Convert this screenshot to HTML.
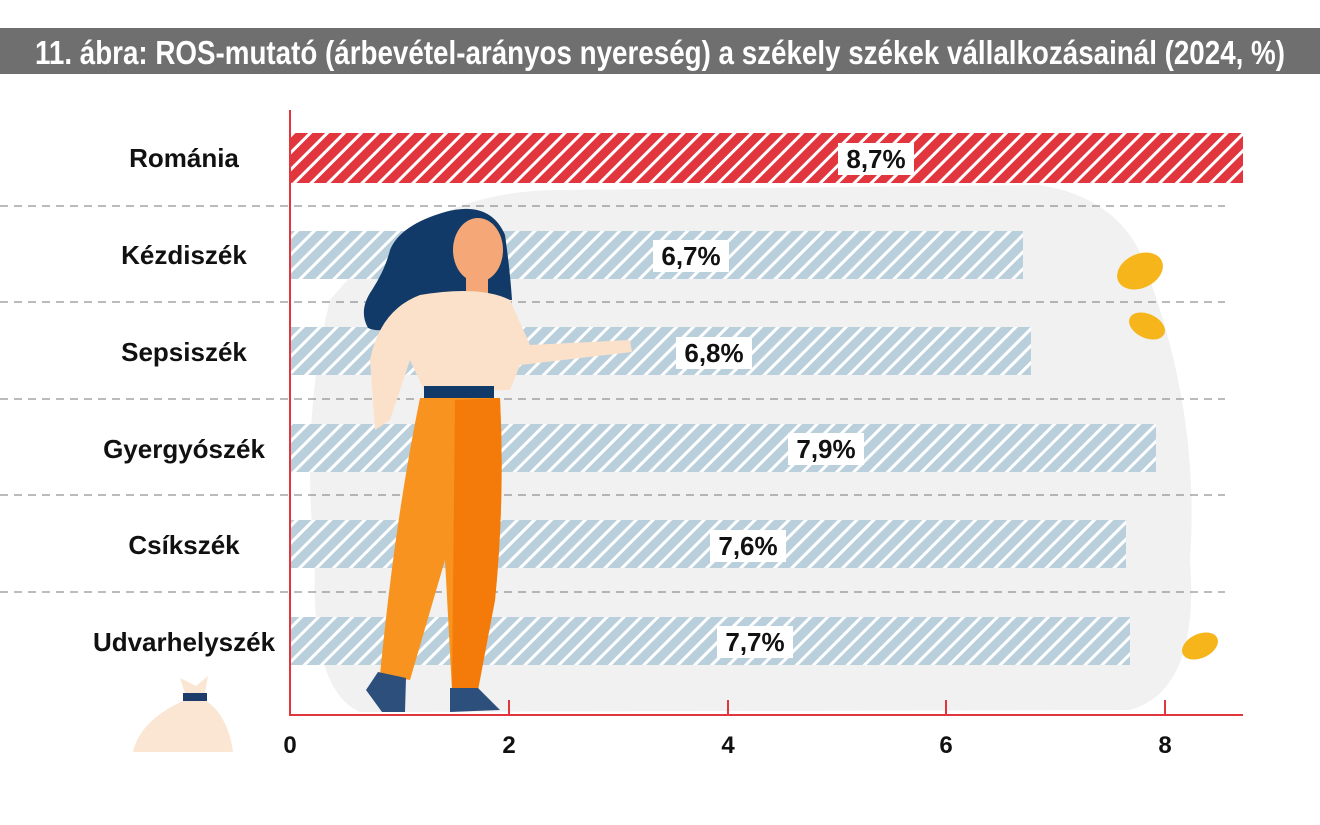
<!DOCTYPE html>
<html><head><meta charset="utf-8"><style>html,body{margin:0;padding:0;background:#fff}svg{display:block}</style></head>
<body>
<svg width="1320" height="825" viewBox="0 0 1320 825" xmlns="http://www.w3.org/2000/svg">
<defs>
<pattern id="hr" width="12" height="12" patternUnits="userSpaceOnUse" patternTransform="rotate(45)">
<rect width="12" height="12" fill="#e2363f"/><rect x="0" width="3" height="12" fill="#fff"/></pattern>
<pattern id="hb" width="12" height="12" patternUnits="userSpaceOnUse" patternTransform="rotate(45)">
<rect width="12" height="12" fill="#b9d0dc"/><rect x="0" width="3" height="12" fill="#fff"/></pattern>
</defs>
<rect width="1320" height="825" fill="#fff"/>
<path d="M330 300 Q420 190 560 190 L1040 185 Q1130 200 1150 280 Q1200 420 1190 560 Q1200 690 1130 710 L360 712 Q310 690 315 560 Q300 420 330 300Z" fill="#f1f1f1"/>
<rect x="0" y="28" width="1320" height="46" fill="#6f6f6f"/>
<text x="35" y="64" font-family="Liberation Sans Narrow, Liberation Sans, sans-serif" font-weight="bold" font-size="33" fill="#fff" textLength="1250" lengthAdjust="spacingAndGlyphs">11. ábra: ROS-mutató (árbevétel-arányos nyereség) a székely székek vállalkozásainál (2024, %)</text>
<g stroke="#777" stroke-width="1" stroke-dasharray="8,6">
<line x1="0" y1="206" x2="1225" y2="206"/><line x1="0" y1="302" x2="1225" y2="302"/>
<line x1="0" y1="399" x2="1225" y2="399"/><line x1="0" y1="495" x2="1225" y2="495"/>
<line x1="0" y1="592" x2="1225" y2="592"/></g>
<rect x="291" y="133" width="952" height="50" fill="url(#hr)"/>
<rect x="291" y="231" width="732" height="48" fill="url(#hb)"/>
<rect x="291" y="327" width="740" height="48" fill="url(#hb)"/>
<rect x="291" y="424" width="865" height="48" fill="url(#hb)"/>
<rect x="291" y="520" width="835" height="48" fill="url(#hb)"/>
<rect x="291" y="617" width="839" height="48" fill="url(#hb)"/>
<line x1="290" y1="110" x2="290" y2="716" stroke="#e2363f" stroke-width="2"/>
<line x1="290" y1="715" x2="1243" y2="715" stroke="#e2363f" stroke-width="2"/>
<g stroke="#e2363f" stroke-width="2"><line x1="509" y1="700" x2="509" y2="715"/><line x1="728" y1="700" x2="728" y2="715"/><line x1="946" y1="700" x2="946" y2="715"/><line x1="1165" y1="700" x2="1165" y2="715"/></g>
<g font-family="Liberation Sans Narrow, Liberation Sans, sans-serif" font-weight="bold" font-size="24" fill="#111" text-anchor="middle">
<text x="290" y="753">0</text><text x="509" y="753">2</text><text x="728" y="753">4</text><text x="946" y="753">6</text><text x="1165" y="753">8</text></g>
<g font-family="Liberation Sans Narrow, Liberation Sans, sans-serif" font-weight="bold" font-size="26" fill="#111" text-anchor="middle">
<text x="184" y="167">Románia</text><text x="184" y="264">Kézdiszék</text><text x="184" y="361">Sepsiszék</text>
<text x="184" y="458">Gyergyószék</text><text x="184" y="554">Csíkszék</text><text x="184" y="651">Udvarhelyszék</text></g>
<!-- hair -->
<path d="M445 212 Q490 200 505 235 Q510 270 512 300 L430 300 Q415 310 400 320 Q385 335 368 328 Q358 310 372 290 Q385 270 390 250 Q400 225 445 212Z" fill="#123a68"/>
<ellipse cx="478" cy="250" rx="25" ry="32" fill="#f6a777"/>
<rect x="466" y="270" width="22" height="28" fill="#f6a777"/>
<path d="M420 295 Q480 285 510 300 L530 345 L630 340 L632 352 L520 365 L510 390 L425 392 L410 360 L390 420 L375 430 L370 360 Q380 310 420 295Z" fill="#fbe1c9"/>
<rect x="424" y="386" width="70" height="12" fill="#123a68"/>
<path d="M420 398 L500 398 Q505 500 495 600 L478 690 L452 690 L445 560 L410 680 L380 675 Q395 520 420 398Z" fill="#f7931e"/>
<path d="M455 400 L500 398 Q505 500 495 600 L478 690 L452 690 Z" fill="#f47b0a"/>
<path d="M378 672 L406 678 L405 712 L382 712 L366 690Z" fill="#2c4f7c"/>
<path d="M450 688 L478 688 L500 710 L450 712Z" fill="#2c4f7c"/>
<ellipse cx="1140" cy="271" rx="24" ry="17" fill="#f5b51b" transform="rotate(-25 1140 271)"/>
<ellipse cx="1147" cy="326" rx="19" ry="12" fill="#f5b51b" transform="rotate(25 1147 326)"/>
<ellipse cx="1200" cy="646" rx="19" ry="12" fill="#f5b51b" transform="rotate(-25 1200 646)"/>
<path d="M185 700 Q140 720 133 752 L233 752 Q228 715 205 700Z" fill="#fbe6d3"/>
<rect x="183" y="693" width="24" height="8" fill="#1e3c6a"/>
<path d="M185 693 L180 678 L196 686 L208 676 L205 693Z" fill="#fbe6d3"/>
<g font-family="Liberation Sans Narrow, Liberation Sans, sans-serif" font-weight="bold" font-size="26" fill="#111" text-anchor="middle">
<rect x="838" y="143" width="76" height="32" fill="#fff"/><text x="876" y="168">8,7%</text>
<rect x="653" y="240" width="76" height="32" fill="#fff"/><text x="691" y="265">6,7%</text>
<rect x="676" y="337" width="76" height="32" fill="#fff"/><text x="714" y="362">6,8%</text>
<rect x="788" y="433" width="76" height="32" fill="#fff"/><text x="826" y="458">7,9%</text>
<rect x="710" y="530" width="76" height="32" fill="#fff"/><text x="748" y="555">7,6%</text>
<rect x="717" y="626" width="76" height="32" fill="#fff"/><text x="755" y="651">7,7%</text>
</g>
</svg>
</body></html>
